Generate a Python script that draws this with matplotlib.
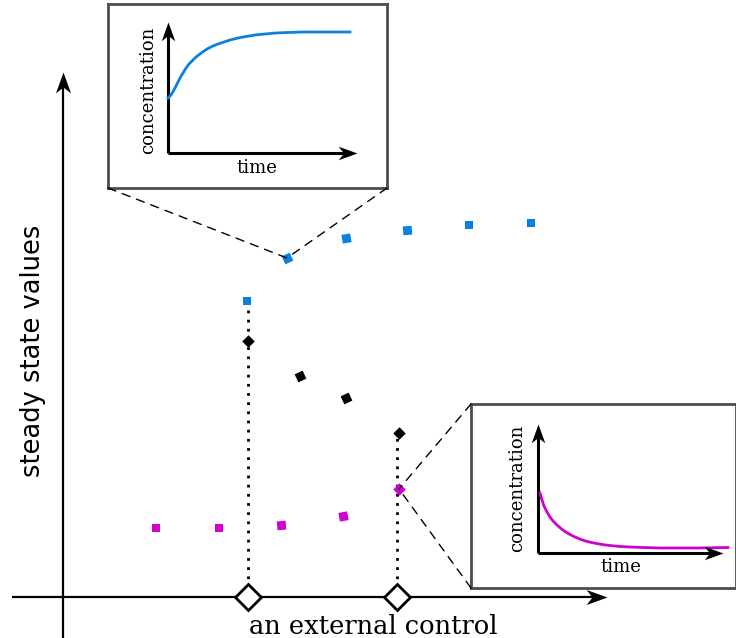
import numpy as np
import matplotlib
matplotlib.use('Agg')
import matplotlib.pyplot as plt
from matplotlib.path import Path
from matplotlib.patches import ConnectionPatch
from matplotlib.transforms import Affine2D

# steady states vs the external control (units measured from the axes origin)
blue_x = [184, 224, 283, 344, 406, 468]
blue_y = [296, 339, 359, 367, 372, 374]
black_x = [185, 237, 283, 336]
black_y = [256, 221, 199, 164]
mag_x = [93, 156, 218, 280, 336]
mag_y = [69, 69, 72, 81, 108]
# bifurcation points on the control axis
bif_x = [185, 334]
bif_top = [296, 164]

# time courses shown in the insets
rise_t = [0, 3, 6, 9, 12, 15, 18, 21, 24, 28, 32, 36, 40, 45, 50, 56, 62, 70,
          78, 87, 97, 108, 120, 135, 150, 165, 182]
rise_c = [55, 58, 63, 69, 75, 80, 85, 89, 92, 96, 99, 102, 104.5, 107, 109, 111,
          113, 115, 116.5, 118, 119, 120, 120.5, 121, 121, 121, 121]
decay_t = [2, 4, 6, 9, 12, 15, 19, 23, 27, 32, 37, 43, 49, 56, 64, 72, 82, 92,
           105, 122, 140, 160, 190]
decay_c = [60, 53, 47, 41, 36, 32, 28, 24.5, 21.5, 18.5, 16, 13.5, 11.5, 10, 8.5,
           7.5, 6.5, 6, 5.5, 5, 5, 5, 5.5]

blue = '#0a80e0'
magenta = '#d000d0'

# stealth arrow head
stealth = Path([(0, 0), (-1, 0.36), (-0.72, 0), (-1, -0.36), (0, 0)],
               [Path.MOVETO, Path.LINETO, Path.LINETO, Path.LINETO, Path.CLOSEPOLY])


def head(ax, x, y, angle, size):
    m = stealth.transformed(Affine2D().rotate_deg(angle))
    ax.plot([x], [y], marker=m, ms=size, color='black', mew=0, clip_on=False, zorder=5)


fig = plt.figure(figsize=(7.36, 6.38), dpi=100)
ax = fig.add_axes([0, 0, 1, 1])
ax.set_xlim(-63, 673)
ax.set_ylim(-41, 597)
ax.axis('off')

# main axes
ax.plot([-51, 535], [0, 0], color='black', lw=1.6, solid_capstyle='butt')
head(ax, 544, 0, 0, 30)
ax.plot([0, 0], [-41, 515], color='black', lw=1.6, solid_capstyle='butt')
head(ax, 0, 525, 90, 30)
ax.text(310, -29, 'an external control', family='DejaVu Serif', fontsize=18.5,
        ha='center', va='center')
ax.text(-30, 246, 'steady state values', family='DejaVu Sans', fontsize=18.5,
        rotation=90, ha='center', va='center')

# dotted guides and bifurcation diamonds
for bx, bt in zip(bif_x, bif_top):
    ax.plot([bx, bx], [0, bt], color='black', lw=2, linestyle=(0, (1, 2.3)),
            dash_capstyle='butt', zorder=2)
ax.plot(bif_x, [0, 0], linestyle='none', marker='D', ms=13, mfc='white',
        mec='black', mew=2, zorder=4)

# steady-state branches
blue_tilt = [0, 25, 10, 5, 0, 0]
black_tilt = [45, 25, 25, 45]
mag_tilt = [0, 0, 5, 10, 45]
for xs, ys, tilts, c in [(blue_x, blue_y, blue_tilt, blue),
                         (black_x, black_y, black_tilt, 'black'),
                         (mag_x, mag_y, mag_tilt, magenta)]:
    for x, y, t in zip(xs, ys, tilts):
        ax.plot([x], [y], linestyle='none', marker=(4, 0, 45 + t), ms=9,
                color=c, mew=0, zorder=3)


def inset(box, origin, tips, labels, t, c, color):
    # box = (left, top, width, height) in px, origin offset inside the box in px
    l, tp, w, h = box
    ox, oy = origin
    ia = fig.add_axes([l / 736, 1 - (tp + h) / 638, w / 736, h / 638])
    ia.set_xlim(-ox, w - ox)
    ia.set_ylim(-oy, h - oy)
    ia.set_xticks([])
    ia.set_yticks([])
    for s in ia.spines.values():
        s.set_color('#4d4d4d')
        s.set_linewidth(2)
    ia.plot(t, c, color=color, lw=2, zorder=3, solid_joinstyle='round')
    xt, yt = tips
    ia.plot([0, xt - 12], [0, 0], color='black', lw=2.2, solid_capstyle='butt')
    head(ia, xt, 0, 0, 27)
    ia.plot([0, 0], [0, yt - 12], color='black', lw=2.2, solid_capstyle='butt')
    head(ia, 0, yt, 90, 27)
    (cx, cy), (tx, ty) = labels
    ia.text(cx, cy, 'concentration', family='DejaVu Serif', fontsize=13,
            rotation=90, ha='center', va='center')
    ia.text(tx, ty, 'time', family='DejaVu Serif', fontsize=13,
            ha='center', va='center')
    return ia


top = inset((108, 4, 279, 184), (60, 35), (189, 131), ((-20, 63), (89, -15)),
            rise_t, rise_c, blue)
bot = inset((471, 404, 265, 184), (67, 35), (185, 129), ((-21, 65), (83, -14)),
            decay_t, decay_c, magenta)

for ia, corners, target in [(top, [(0, 0), (1, 0)], (blue_x[1], blue_y[1])),
                            (bot, [(0, 1), (0, 0)], (mag_x[-1], mag_y[-1]))]:
    for cpt in corners:
        con = ConnectionPatch(xyA=cpt, coordsA=ia.transAxes, xyB=target,
                              coordsB=ax.transData, color='black', lw=1,
                              linestyle=(0, (6, 5)))
        fig.add_artist(con)

fig.savefig('out.png', dpi=100)
